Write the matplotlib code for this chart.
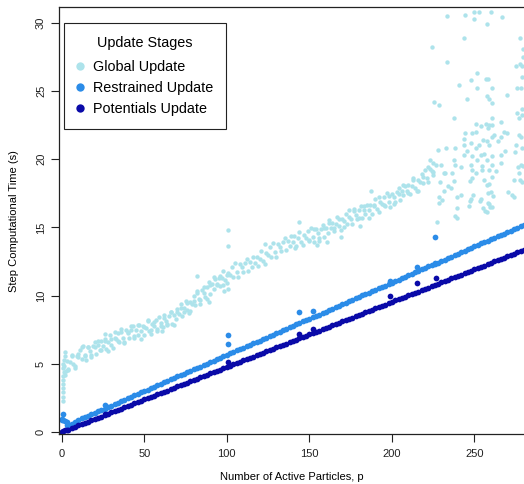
import matplotlib

matplotlib.use("Agg")
import matplotlib.pyplot as plt
from matplotlib.lines import Line2D
import numpy as np

plt.rcParams["font.family"] = ["Liberation Sans", "DejaVu Sans"]

# ---- data ----
# restrained / potentials updates, sampled every 2 particles
line_p = np.arange(0, 282, 2)
restrained_t = [
    0.85, 0.78, 0.45, 0.58, 0.76, 0.88, 0.99, 1.10, 1.19, 1.31, 1.40, 1.53, 1.62, 1.72, 1.84,
    1.93, 2.06, 2.14, 2.27, 2.35, 2.48, 2.57, 2.69, 2.78, 2.90, 3.01, 3.10, 3.22, 3.31, 3.43,
    3.53, 3.65, 3.73, 3.86, 3.94, 4.07, 4.16, 4.28, 4.37, 4.49, 4.58, 4.71, 4.79, 4.92, 5.00,
    5.13, 5.22, 5.34, 5.43, 5.55, 5.65, 5.77, 5.85, 5.98, 6.06, 6.19, 6.28, 6.40, 6.49, 6.61,
    6.70, 6.83, 6.91, 7.04, 7.12, 7.25, 7.34, 7.46, 7.55, 7.67, 7.76, 7.89, 7.97, 8.10, 8.18,
    8.31, 8.40, 8.52, 8.61, 8.73, 8.82, 8.95, 9.03, 9.16, 9.24, 9.37, 9.46, 9.58, 9.67, 9.79,
    9.88, 10.01, 10.09, 10.22, 10.30, 10.43, 10.52, 10.64, 10.73, 10.85, 10.95, 11.07, 11.15,
    11.28, 11.36, 11.49, 11.58, 11.70, 11.79, 11.91, 12.00, 12.13, 12.21, 12.34, 12.42, 12.55,
    12.64, 12.76, 12.85, 12.97, 13.06, 13.19, 13.27, 13.40, 13.48, 13.61, 13.70, 13.82, 13.91,
    14.03, 14.12, 14.25, 14.33, 14.46, 14.54, 14.67, 14.76, 14.88, 14.97, 15.09, 15.19,
]
potentials_t = [
    0.03, 0.11, 0.18, 0.29, 0.37, 0.48, 0.56, 0.67, 0.75, 0.86, 0.94, 1.05, 1.13, 1.24, 1.33,
    1.43, 1.52, 1.62, 1.71, 1.81, 1.90, 2.00, 2.09, 2.19, 2.28, 2.39, 2.47, 2.58, 2.66, 2.77,
    2.85, 2.96, 3.04, 3.15, 3.23, 3.34, 3.42, 3.53, 3.62, 3.72, 3.81, 3.91, 4.00, 4.10, 4.19,
    4.29, 4.38, 4.48, 4.57, 4.67, 4.76, 4.87, 4.95, 5.06, 5.14, 5.25, 5.33, 5.44, 5.52, 5.63,
    5.71, 5.82, 5.90, 6.01, 6.10, 6.20, 6.29, 6.39, 6.48, 6.58, 6.67, 6.77, 6.86, 6.96, 7.05,
    7.16, 7.24, 7.35, 7.43, 7.54, 7.62, 7.73, 7.81, 7.92, 8.00, 8.11, 8.19, 8.30, 8.39, 8.49,
    8.58, 8.68, 8.77, 8.87, 8.96, 9.06, 9.15, 9.25, 9.34, 9.44, 9.53, 9.64, 9.72, 9.83, 9.91,
    10.02, 10.10, 10.21, 10.29, 10.40, 10.48, 10.59, 10.67, 10.78, 10.87, 10.97, 11.06, 11.16,
    11.25, 11.35, 11.44, 11.54, 11.63, 11.73, 11.82, 11.93, 12.01, 12.12, 12.20, 12.31, 12.39,
    12.50, 12.58, 12.69, 12.77, 12.88, 12.96, 13.07, 13.16, 13.26, 13.36,
]
restrained_extra_p = [0, 1, 1, 3, 5, 3, 26, 101, 101, 144, 152, 199, 215, 226, 226]
restrained_extra_t = [0.95, 0.9, 1.3, 0.7, 0.4, 0.5, 1.98, 7.13, 6.47, 8.8, 8.85, 11.1, 12.1, 12.4, 14.27]
potentials_extra_p = [0, 1, 3, 26, 100.5, 144, 152, 199, 215, 226.5]
potentials_extra_t = [0.0, 0.08, 0.12, 1.34, 5.13, 7.2, 7.57, 9.97, 10.95, 11.3]

# global update: main band, one point per particle count 3..225
band_p = np.arange(3, 226)
band_t = [
    5.2, 4.55, 5.1, 5.65, 5.0, 4.8, 5.6, 5.5, 6.01, 5.32, 6.28, 5.64, 5.25, 6.21, 5.97, 5.63,
    6.29, 6.6, 5.7, 6.35, 6.0, 6.7, 6.3, 6.7, 6.05, 6.6, 7.1, 6.4, 6.16, 6.92, 6.78, 7.29,
    6.6, 7.56, 6.92, 6.53, 7.49, 7.25, 6.88, 7.51, 7.79, 6.87, 7.5, 7.13, 7.81, 7.39, 7.77,
    7.1, 7.64, 8.13, 7.42, 7.16, 7.9, 7.74, 8.23, 7.52, 8.46, 7.8, 7.42, 8.39, 8.16, 7.83,
    8.5, 8.82, 7.94, 8.61, 8.28, 9.0, 8.64, 9.08, 8.47, 9.06, 9.6, 8.94, 8.73, 9.52, 9.41,
    9.95, 9.31, 10.32, 9.73, 9.39, 10.4, 10.21, 9.92, 10.63, 10.99, 10.15, 10.83, 10.51,
    11.24, 10.87, 11.3, 10.68, 11.26, 11.79, 11.12, 10.9, 11.67, 11.54, 12.06, 11.38, 12.35,
    11.72, 11.34, 12.31, 12.08, 11.75, 12.4, 12.7, 11.8, 12.45, 12.1, 12.8, 12.4, 12.8, 12.15,
    12.7, 13.23, 12.56, 12.34, 13.12, 13.0, 13.53, 12.86, 13.84, 13.22, 12.85, 13.81, 13.57,
    13.23, 13.89, 14.2, 13.31, 13.97, 13.63, 14.34, 13.95, 14.33, 13.66, 14.19, 14.67, 13.95,
    13.68, 14.41, 14.24, 14.72, 14.0, 14.95, 14.3, 13.9, 14.85, 14.6, 14.25, 14.9, 15.2, 14.3,
    14.95, 14.61, 15.32, 14.93, 15.34, 14.7, 15.26, 15.77, 15.08, 14.84, 15.6, 15.46, 15.97,
    15.28, 16.24, 15.6, 15.21, 16.17, 15.93, 15.59, 16.25, 16.55, 15.65, 16.3, 15.95, 16.65,
    16.25, 16.65, 16.0, 16.55, 17.05, 16.36, 16.12, 16.88, 16.74, 17.25, 16.56, 17.52, 16.88,
    16.49, 17.45, 17.22, 16.89, 17.56, 17.88, 17.0, 17.67, 17.34, 18.06, 17.68, 18.1, 17.48,
    18.06, 18.59, 17.92, 17.7, 18.48, 18.36, 18.89, 18.22, 19.2, 18.62, 18.29, 19.31, 19.13,
    18.85,
]
band2_p = [
    4, 6, 8, 10, 12, 14, 16, 18, 20, 22, 24, 26, 28, 30, 32, 34, 36, 38, 40, 42, 44, 46, 48,
    50, 52, 54, 56, 58, 60, 62, 64, 66, 68, 70, 72, 74, 76, 78, 80, 82, 84, 86, 88, 90, 92,
    94, 96, 98, 100, 150, 153, 156, 159, 162, 165, 168, 171, 174, 177, 180, 183, 186, 189,
    192, 195, 198, 201, 204, 207, 210, 213, 216, 219, 222, 225,
]
band2_t = [
    4.65, 5.55, 4.7, 5.7, 6.22, 5.59, 6.25, 5.53, 6.2, 6.7, 6.0, 6.85, 5.9, 6.8, 7.32, 6.69,
    7.31, 6.63, 7.3, 7.76, 7.02, 7.83, 6.84, 7.7, 8.18, 7.51, 8.09, 7.37, 8.0, 8.54, 7.88,
    8.77, 7.86, 8.8, 9.38, 8.81, 9.49, 8.87, 9.6, 10.22, 9.64, 10.61, 9.78, 10.8, 11.36,
    10.77, 11.43, 10.79, 11.5, 14.05, 14.9, 14.0, 14.95, 15.52, 14.95, 15.63, 15.01, 15.74,
    16.32, 15.7, 16.6, 15.7, 16.65, 17.22, 16.65, 17.33, 16.72, 17.48, 18.09, 17.5, 18.49,
    17.68, 18.72, 19.44, 19.05,
]
# vertical strip at very small p plus stray points off the band
global_misc_p = [
    0.5, 0.5, 0.8, 1, 0.6, 1, 0.8, 1.2, 0.5, 1.0, 1.5, 2, 2, 1.5, 2.5, 2.0, 1,
    101, 101, 101, 98.5, 82, 89, 61.5, 26, 143.6, 123, 141.4, 154.5, 187.3, 169, 180.8, 160.5,
]
global_misc_t = [
    2.3, 2.6, 2.9, 3.2, 3.5, 3.8, 4.1, 4.4, 4.7, 5.0, 5.3, 5.6, 5.85, 4.8, 4.5, 4.2, 1.25,
    14.8, 13.6, 10.5, 10.3, 11.4, 9.5, 7.7, 7.2, 15.4, 13.8, 13.5, 13.7, 17.7, 14.3, 15.1, 13.9,
]
# wide scatter beyond ~225 particles
spread_p = [
    233.5, 244.5, 249.7, 252.7, 249.7, 259.8, 257.8, 266.9, 243.6, 224.4, 233.5, 277.6, 279.6,
    279.5, 275.0, 277.8, 278.8, 251.7, 247.6, 256.7, 258.2, 240.6, 251.7, 260.6, 276.0, 278.0,
    278.8, 269.9, 257.8, 258.8, 260.8, 245.6, 225.5, 228.5, 237.6, 260.6, 278.8, 278.8, 275.6,
    276.7, 250.7, 253.7, 256.7, 265.8, 258.5, 260.6, 258.0, 243.6, 248.7, 250.7, 267.9, 244.5,
    262.0, 270.0, 232.5, 238.5, 243.6, 247.6, 250.7, 252.7, 257.8, 258.8, 260.8, 265.8, 275.0,
    277.0, 278.0, 255.0, 264.0, 243.6, 248.7, 253.7, 255.7, 260.8, 265.8, 228.2, 274.5, 279.0,
    245.5, 268.5, 237.6, 238.5, 247.6, 251.7, 254.7, 257.8, 260.8, 265.8, 278.0, 277.0, 230.0,
    232.0, 241.6, 276.5, 279.5, 231.5, 236.5, 237.6, 248.7, 254.7, 258.8, 251.0, 263.0, 248.7,
    255.7, 260.8, 258.8, 257.6, 247.5, 273.8, 277.8, 278.8, 231.5, 236.0, 239.6, 241.6, 228.5,
    230.5, 228.5, 247.6, 253.7, 258.0, 260.0, 261.0, 248.9, 272.8, 273.8, 270.6, 258.0, 258.8,
    259.6, 247.5, 246.4, 253.6, 239.6, 238.5, 239.6, 260.8, 257.8, 255.0, 256.5, 227.4, 226.5,
    229.0, 234.0, 223.0, 225.0,
]
spread_t = [
    30.5, 30.6, 30.8, 30.8, 30.3, 30.8, 29.9, 30.4, 28.9, 28.2, 27.1, 28.9, 28.1,
    27.5, 26.8, 27.0, 26.8, 26.3, 25.8, 25.9, 25.9, 25.4, 25.2, 25.2, 25.2, 25.2,
    26.0, 24.7, 24.6, 24.4, 24.1, 24.4, 24.2, 24.0, 23.0, 23.0, 23.7, 23.2, 23.4,
    23.0, 22.6, 22.4, 22.6, 22.7, 22.5, 22.5, 22.3, 21.5, 21.9, 22.0, 22.0, 21.9,
    21.8, 21.9, 20.8, 20.8, 21.0, 21.2, 20.8, 21.0, 21.3, 21.0, 21.6, 21.6, 21.0,
    21.8, 21.6, 21.4, 21.3, 20.3, 20.2, 20.3, 20.4, 20.2, 20.3, 20.7, 20.5, 20.8,
    20.6, 20.6, 19.9, 19.6, 19.6, 19.9, 19.5, 19.9, 19.6, 19.7, 19.6, 19.0, 19.6,
    19.0, 19.4, 19.4, 19.5, 19.0, 19.0, 18.4, 19.2, 19.2, 19.2, 19.0, 19.1, 18.6,
    18.5, 18.7, 18.2, 18.1, 18.4, 18.5, 18.5, 18.3, 17.7, 17.9, 17.25, 17.4, 17.25,
    17.0, 16.8, 17.1, 17.1, 17.5, 17.6, 17.3, 17.4, 17.4, 17.2, 17.6, 16.8, 16.7,
    16.5, 16.9, 16.6, 16.9, 16.4, 15.8, 15.7, 16.5, 16.1, 16.4, 16.2, 15.4, 19.6,
    18.3, 18.0, 19.9, 19.7,
]

series_labels = ["Global Update", "Restrained Update", "Potentials Update"]
series_colors = ["#ade3eb", "#2b8ce8", "#0a0aa8"]

fig = plt.figure(figsize=(5.24, 4.84), dpi=100)
ax = fig.add_axes([0.113, 0.1027, 0.887, 0.8828])

gp = np.concatenate([band_p, band2_p, global_misc_p, spread_p])
gt = np.concatenate([band_t, band2_t, global_misc_t, spread_t])
ax.scatter(gp, gt, s=10, color=series_colors[0], linewidths=0)

rp = np.concatenate([line_p, restrained_extra_p])
rt = np.concatenate([restrained_t, restrained_extra_t])
ax.scatter(rp, rt, s=17, color=series_colors[1], linewidths=0)

pp = np.concatenate([line_p, potentials_extra_p])
pt = np.concatenate([potentials_t, potentials_extra_t])
ax.scatter(pp, pt, s=17, color=series_colors[2], linewidths=0)

ax.set_xlim(-1.5, 280)
ax.set_ylim(-0.17, 31.15)
ax.set_xticks([0, 50, 100, 150, 200, 250])
ax.set_yticks([0, 5, 10, 15, 20, 25, 30])
ax.set_yticklabels(["0", "5", "10", "15", "20", "25", "30"], rotation=90, va="center")
ax.tick_params(direction="out", length=5.5, width=0.8, labelsize=8, colors="#222222")
ax.tick_params(axis="x", pad=5)
ax.tick_params(axis="y", pad=4)
for side in ["left", "bottom", "top"]:
    ax.spines[side].set_linewidth(0.9)
    ax.spines[side].set_color("#222222")
ax.spines["right"].set_visible(False)

ax.set_xlabel("Number of Active Particles, p", fontsize=8, labelpad=9.5)
ax.set_ylabel("Step Computational Time (s)", fontsize=8, labelpad=12)

handles = [
    Line2D([], [], linestyle="", marker="o", markersize=6, markeredgewidth=0, color=c)
    for c in series_colors
]
leg = ax.legend(
    handles, series_labels,
    title="Update Stages", loc="upper left", bbox_to_anchor=(0.0113, 0.9626),
    borderaxespad=0, fontsize=10.4, title_fontsize=10.4, frameon=True, fancybox=False,
    edgecolor="#222222", framealpha=1, handletextpad=0.75,
    borderpad=0.9, labelspacing=0.5, handlelength=0.3,
)
leg._legend_box.sep = 7.0
leg.get_frame().set_linewidth(0.8)

fig.savefig("out.png", dpi=100)
